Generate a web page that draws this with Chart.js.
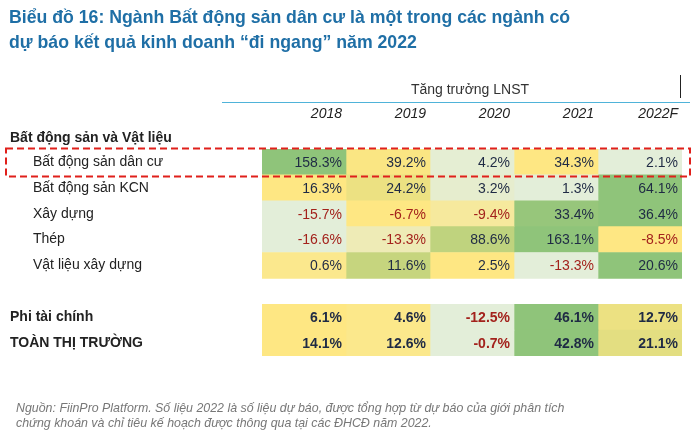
<!DOCTYPE html><html><head><meta charset="utf-8">
<script src="https://cdn.jsdelivr.net/npm/chart.js@4/dist/chart.umd.min.js"></script>
<style>body{margin:0;background:#fff}#w{width:700px;height:435px;position:relative}</style></head><body>
<div id="w"><canvas id="c"></canvas></div>
<script>
const years = ["2018","2019","2020","2021","2022F"];
const rows = ["Bất động sản dân cư","Bất động sản KCN","Xây dựng","Thép","Vật liệu xây dựng","","Phi tài chính","TOÀN THỊ TRƯỜNG"];
const values = [
  [158.3,39.2,4.2,34.3,2.1],
  [16.3,24.2,3.2,1.3,64.1],
  [-15.7,-6.7,-9.4,33.4,36.4],
  [-16.6,-13.3,88.6,163.1,-8.5],
  [0.6,11.6,2.5,-13.3,20.6],
  null,
  [6.1,4.6,-12.5,46.1,12.7],
  [14.1,12.6,-0.7,42.8,21.1]
];
const boldRows = [6,7];
const cMin=[227,238,217], cMid=[254,231,131], cMax=[143,196,122];
function mix(a,b,t){return `rgb(${a.map((v,i)=>Math.round(v+(b[i]-v)*t)).join(',')})`;}
function cellColor(r,c){
  const row=values[r]; const s=[...row].sort((a,b)=>a-b); const mn=s[0],md=s[2],mx=s[4]; const v=row[c];
  if(v<=md) return mix(cMin,cMid,md===mn?1:(v-mn)/(md-mn));
  return mix(cMid,cMax,(v-md)/(mx-md));
}
const datasets = years.map((y,c)=>({
  label:y,
  data: rows.map((r,i)=>values[i]?[c,c+1]:null),
  backgroundColor: ctx=>values[ctx.dataIndex]?cellColor(ctx.dataIndex,c):'transparent',
  borderWidth:0, barPercentage:1, categoryPercentage:1, grouped:false
}));
const deco = {id:'deco', afterDatasetsDraw(ch){
  const ctx=ch.ctx, xs=ch.scales.x, ys=ch.scales.y;
  ctx.save();
  ctx.fillStyle='#1f6fa6'; ctx.font='bold 17.7px Arial, "Liberation Sans"'; ctx.textBaseline='alphabetic';
  ctx.fillText('Biểu đồ 16: Ngành Bất động sản dân cư là một trong các ngành có',9,23);
  ctx.fillText('dự báo kết quả kinh doanh “đi ngang” năm 2022',9,48);
  ctx.fillStyle='#333'; ctx.font='14px Arial, "Liberation Sans"'; ctx.textAlign='center';
  ctx.fillText('Tăng trưởng LNST',470,94);
  ctx.strokeStyle='#4fb3d9'; ctx.lineWidth=1; ctx.beginPath(); ctx.moveTo(222,102.5); ctx.lineTo(690,102.5); ctx.stroke();
  ctx.strokeStyle='#222'; ctx.beginPath(); ctx.moveTo(680.5,75); ctx.lineTo(680.5,98); ctx.stroke();
  ctx.textAlign='right'; ctx.font='italic 14px Arial, "Liberation Sans"'; ctx.fillStyle='#222';
  years.forEach((y,c)=>ctx.fillText(y,xs.getPixelForValue(c+1)-4,118));
  ctx.textAlign='left'; ctx.font='bold 14px Arial, "Liberation Sans"'; ctx.fillStyle='#222';
  ctx.fillText('Bất động sản và Vật liệu',10,142);
  rows.forEach((r,i)=>{
    const yc=ys.getPixelForValue(i);
    const b=boldRows.includes(i);
    ctx.textAlign='left'; ctx.textBaseline='middle';
    ctx.font=(b?'bold ':'')+'14px Arial, "Liberation Sans"'; ctx.fillStyle='#222';
    ctx.fillText(r,b?10:33,yc);
    if(!values[i]) return;
    ctx.textAlign='right';
    values[i].forEach((v,c)=>{
      ctx.fillStyle=v<0?'#a3221c':'#1f2a44';
      ctx.fillText(v.toFixed(1)+'%',xs.getPixelForValue(c+1)-4,yc+1);
    });
  });
  const y0=ys.getPixelForValue(0)-13.5;
  ctx.strokeStyle='#e0201b'; ctx.lineWidth=2; ctx.setLineDash([7,4]);
  ctx.strokeRect(6,y0,684,28);
  ctx.setLineDash([]);
  ctx.textAlign='left'; ctx.textBaseline='alphabetic'; ctx.fillStyle='#777'; ctx.font='italic 12.4px Arial, "Liberation Sans"';
  ctx.fillText('Nguồn: FiinPro Platform. Số liệu 2022 là số liệu dự báo, được tổng hợp từ dự báo của giới phân tích',16,412);
  ctx.fillText('chứng khoán và chỉ tiêu kế hoạch được thông qua tại các ĐHCĐ năm 2022.',16,427);
  ctx.restore();
}};
new Chart(document.getElementById('c'),{
  type:'bar',
  data:{labels:rows,datasets},
  options:{indexAxis:'y',responsive:true,maintainAspectRatio:false,animation:false,
    layout:{padding:{left:262,right:18,top:149,bottom:79}},
    plugins:{legend:{display:false},tooltip:{enabled:false}},
    scales:{x:{type:'linear',min:0,max:5,display:false},y:{display:false,grid:{display:false}}}},
  plugins:[deco]
});
</script></body></html>
